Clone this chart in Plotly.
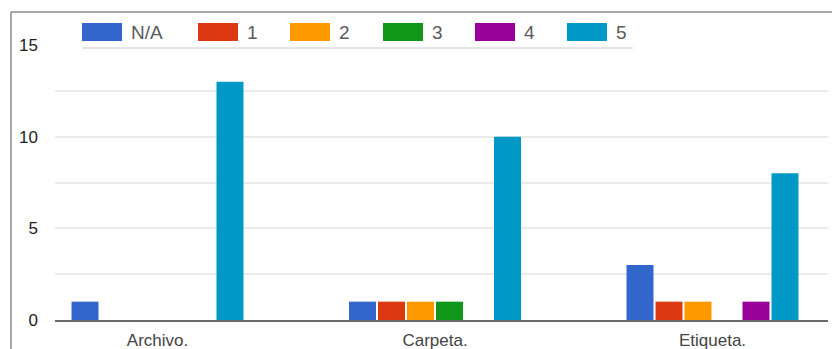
import plotly.graph_objects as go

# ---- data ----
categories = ["Archivo.", "Carpeta.", "Etiqueta."]
series_names = ["N/A", "1", "2", "3", "4", "5"]
val_na = [1, 1, 3]
val_1 = [0, 1, 1]
val_2 = [0, 1, 1]
val_3 = [0, 1, 0]
val_4 = [0, 0, 1]
val_5 = [13, 10, 8]
y_tick_vals = [0, 5, 10, 15]
y_tick_text = ["0", "5", "10", "15"]

# ---- styles ----
colors = ["#3366cc", "#dc3912", "#ff9900", "#109618", "#990099", "#0099c6"]
W, H = 832, 349
ML, MR, MT, MB = 55, 4, 45, 29
PL, PR, PT, PB = ML, W - MR, MT, H - MB  # plot area pixel box
FONT = "Liberation Sans, Arial, sans-serif"

def px_x(p):
    return (p - PL) / (PR - PL)

def px_y(p):
    return (PB - p) / (PB - PT)

series_values = [val_na, val_1, val_2, val_3, val_4, val_5]

fig = go.Figure()
for name, vals, col in zip(series_names, series_values, colors):
    fig.add_trace(go.Bar(x=categories, y=vals, name=name,
                         marker=dict(color=col, line=dict(width=0)),
                         showlegend=False))

# category positions: unit = 277.5 px, first centre at x=157.5 px
unit = 277.5
r0 = -(157.5 - PL) / unit
r1 = r0 + (PR - PL) / unit

shapes = []
annotations = []

# custom legend (large swatches like the original)
legend_swatch_x = [82, 198, 290, 383, 475, 567]
for name, col, sx in zip(series_names, colors, legend_swatch_x):
    shapes.append(dict(type="rect", xref="paper", yref="paper",
                       x0=px_x(sx), x1=px_x(sx + 40), y0=px_y(41), y1=px_y(23),
                       fillcolor=col, line=dict(width=0), layer="above"))
    annotations.append(dict(text=name, xref="paper", yref="paper",
                            x=px_x(sx + 47), y=px_y(32.5), xanchor="left", yanchor="middle",
                            showarrow=False, font=dict(family=FONT, size=19, color="#5a5a5a")))
# legend underline
shapes.append(dict(type="line", xref="paper", yref="paper",
                   x0=px_x(82), x1=px_x(633), y0=px_y(48), y1=px_y(48),
                   line=dict(color="#dddddd", width=1.5)))
# outer frame (top and left edges)
shapes.append(dict(type="line", xref="paper", yref="paper",
                   x0=px_x(11), x1=px_x(834), y0=px_y(12), y1=px_y(12),
                   line=dict(color="#8a8a8a", width=1.5)))
shapes.append(dict(type="line", xref="paper", yref="paper",
                   x0=px_x(11), x1=px_x(11), y0=px_y(12), y1=px_y(352),
                   line=dict(color="#8a8a8a", width=1.5)))

fig.update_layout(
    width=W, height=H,
    margin=dict(l=ML, r=MR, t=MT, b=MB, pad=0, autoexpand=False),
    paper_bgcolor="white", plot_bgcolor="white",
    barmode="group", bargap=0.373, bargroupgap=0.07,
    font=dict(family=FONT),
    shapes=shapes, annotations=annotations,
    xaxis=dict(type="category", range=[r0, r1], showgrid=False, zeroline=False,
               automargin=False,
               showline=True, linecolor="#6a6a6a", linewidth=1.5,
               ticks="", tickfont=dict(family=FONT, size=17, color="#444444"),
               ticklabelstandoff=4),
    yaxis=dict(range=[0, 15], tickvals=y_tick_vals, ticktext=y_tick_text,
               automargin=False,
               showgrid=False, zeroline=False, showline=False, ticks="",
               tickfont=dict(family=FONT, size=17, color="#222222"),
               ticklabelstandoff=16,
               minor=dict(tickvals=[2.5, 5, 7.5, 10, 12.5], showgrid=True,
                          gridcolor="#ebebeb", gridwidth=1.5, ticks="")),
)

fig.write_html("out.html")
